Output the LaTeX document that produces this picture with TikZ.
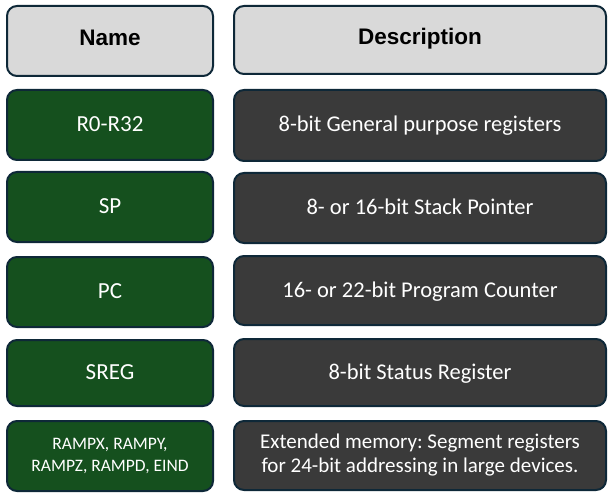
\documentclass[tikz,border=0pt]{standalone}
\usepackage{fontspec}
\setmainfont{Carlito}
\newfontfamily\hdrfont{Liberation Sans}
\frenchspacing
\definecolor{hdrfill}{HTML}{D9D9D9}
\definecolor{namefill}{HTML}{15501E}
\definecolor{descfill}{HTML}{3A3A3A}
\definecolor{edge}{HTML}{0E2838}
\begin{document}
\begin{tikzpicture}[x=1pt,y=-1pt,
  cell/.style={draw=edge, line width=2pt, rounded corners=10pt, align=center, inner sep=0pt},
  one/.style={text height=15pt, text depth=2pt},
  hdr/.style={cell, fill=hdrfill, text=black, text height=16pt, text depth=6pt, font=\hdrfont\bfseries\fontsize{22.5}{26}\selectfont},
  namecell/.style={cell, fill=namefill, text=white, minimum width=206pt, font=\fontsize{23}{26}\selectfont},
  desccell/.style={cell, fill=descfill, text=white, minimum width=372pt, font=\fontsize{22.5}{26}\selectfont}]
\useasboundingbox (0,0) rectangle (613,497);
\node[hdr, minimum width=206pt, minimum height=70pt] (hn) at (110,41) {Name};
\node[hdr, minimum width=372pt, minimum height=68pt] (hd) at (420,40) {Description};
\node[namecell, one, minimum height=70pt] (n1) at (110,125) {R0-R32};
\node[desccell, one, minimum height=71pt] (d1) at (420,125.5) {8-bit General purpose registers};
\node[namecell, one, minimum height=70pt] (n2) at (110,207) {SP};
\node[desccell, one, minimum height=70pt] (d2) at (420,208) {8- or 16-bit Stack Pointer};
\node[namecell, one, minimum height=70pt] (n3) at (110,292) {PC};
\node[desccell, one, minimum height=69pt] (d3) at (420,290.5) {16- or 22-bit Program Counter};
\node[namecell, one, minimum height=66pt] (n4) at (110,373) {SREG};
\node[desccell, one, minimum height=67pt] (d4) at (420,372.5) {8-bit Status Register};
\node[namecell, minimum height=70pt, font=\fontsize{17.5}{22}\selectfont] (n5) at (110,456) {RAMPX, RAMPY,\\RAMPZ, RAMPD, EIND};
\node[desccell, minimum height=69pt, font=\fontsize{21}{24}\selectfont] (d5) at (420,455.5) {Extended memory: Segment registers\\for 24-bit addressing in large devices.};
\end{tikzpicture}
\end{document}
